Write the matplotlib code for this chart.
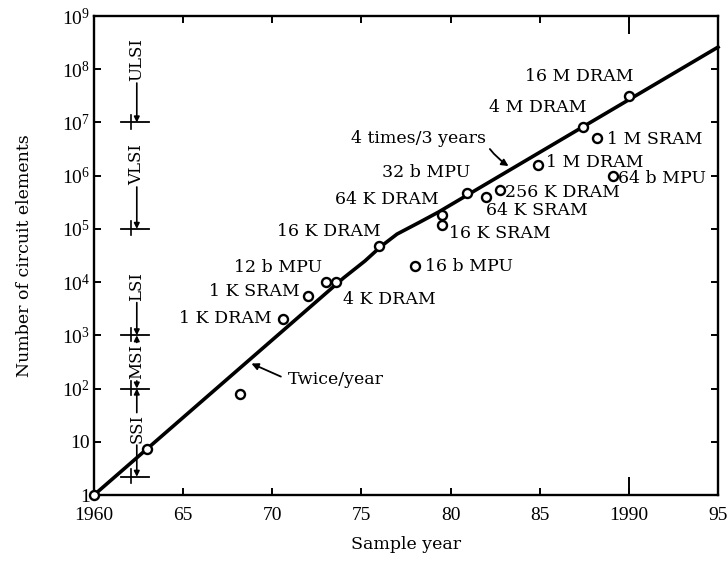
import matplotlib
matplotlib.use('Agg')
import matplotlib.pyplot as plt
from matplotlib.ticker import FixedLocator

# ------------------------- data -------------------------
years = [1960, 1963.0, 1968.2, 1970.6, 1972.0, 1973.0, 1973.6, 1976.0, 1978.0,
         1979.5, 1979.5, 1980.9, 1982.0, 1982.8, 1984.9, 1987.4, 1988.2, 1989.1, 1990.0]
counts = [1, 7.4, 80, 2.0e3, 5.4e3, 1.0e4, 1.0e4, 4.7e4, 2.0e4,
          1.2e5, 1.8e5, 4.7e5, 3.9e5, 5.3e5, 1.6e6, 8.1e6, 5.2e6, 9.8e5, 3.2e7]
labels = ['', '', '', '1 K DRAM', '1 K SRAM', '12 b MPU', '4 K DRAM', '16 K DRAM', '16 b MPU',
          '16 K SRAM', '64 K DRAM', '32 b MPU', '64 K SRAM', '256 K DRAM', '1 M DRAM',
          '4 M DRAM', '1 M SRAM', '64 b MPU', '16 M DRAM']

trend_years = [1960, 1974.0, 1975.2, 1976.1, 1977.0, 1978.2, 1979.3, 1995]
trend_counts = [1, 1.2e4, 2.5e4, 4.7e4, 8.0e4, 1.3e5, 2.05e5, 2.6e8]

levels = ['SSI', 'MSI', 'LSI', 'VLSI', 'ULSI']
level_lo = [2.2, 1e2, 1e3, 1e5, 1e7]
level_hi = [1e2, 1e3, None, None, None]
level_mid = [17.5, 320, 8.3e3, 1.6e6, 1.5e8]

xtick_vals = [1960, 1965, 1970, 1975, 1980, 1985, 1990, 1995]
xtick_text = ['1960', '65', '70', '75', '80', '85', '1990', '95']
ytick_vals = [10 ** k for k in range(10)]
ytick_text = ['1', '10'] + [r'$\mathregular{10^{%d}}$' % k for k in range(2, 10)]

# label placement (pixel offsets from the point, horizontal alignment)
lab_off = [None, None, None, (-11, 1), (-8, 5), (-4, 15), (7, -17), (1, 15), (10, 0),
           (7, -9), (-3, 16), (4, 21), (0, -13), (5, -2), (8, 2), (4, 20), (10, -2),
           (5, -2), (5, 19)]
lab_ha = [None, None, None, 'right', 'right', 'right', 'left', 'right', 'left',
          'left', 'right', 'right', 'left', 'left', 'left', 'right', 'left', 'left', 'right']

# ------ Set up figure layout --------
plt.rcParams['font.family'] = 'DejaVu Serif'
plt.rcParams['mathtext.fontset'] = 'dejavuserif'
fig = plt.figure(figsize=(7.28, 5.74), dpi=100)
ax = fig.add_axes([94 / 728, 1 - 495 / 574, 624 / 728, 479 / 574])
ax.set_yscale('log')
ax.set_xlim(1960, 1995)
ax.set_ylim(1, 1e9)
for s in ax.spines.values():
    s.set_linewidth(1.7)

# ------ Axes Labels --------
ax.xaxis.set_major_locator(FixedLocator(xtick_vals))
ax.set_xticklabels(xtick_text, fontsize=14, family='Liberation Serif')
ax.yaxis.set_major_locator(FixedLocator(ytick_vals))
ax.yaxis.set_minor_locator(FixedLocator([]))
ax.set_yticklabels(ytick_text, fontsize=14, family='Liberation Serif')
ax.tick_params(which='major', direction='in', length=5, width=1.4, top=True, right=True)
ax.tick_params(axis='x', pad=9)
ax.tick_params(axis='y', pad=3)
ax.xaxis.remove_overlapping_locs = False
ax.xaxis.set_minor_locator(FixedLocator([1990]))
ax.tick_params(axis='x', which='minor', direction='in', length=13, width=1.4, top=True)
ax.set_xlabel('Sample year', fontsize=12.5, labelpad=8)
ax.set_ylabel('Number of circuit elements', fontsize=12.5)
ax.yaxis.set_label_coords(-0.098, 0.5)

# ----- Add data -----
ax.plot(trend_years, trend_counts, color='black', lw=2.6, zorder=2, clip_on=False,
        solid_joinstyle='round')
ax.plot(years, counts, 'o', ms=6.5, mfc='white', mec='black', mew=1.7, zorder=3, clip_on=False)
for yr, c, t, off, ha in zip(years, counts, labels, lab_off, lab_ha):
    if t:
        ax.annotate(t, (yr, c), xytext=off, textcoords='offset pixels',
                    ha=ha, va='center', fontsize=12.5)

ax.annotate('Twice/year', xy=(1968.83, 10 ** 2.47), xytext=(1970.85, 10 ** 2.17),
            ha='left', va='center', fontsize=12.5,
            arrowprops=dict(arrowstyle='-|>', color='black', lw=1.3, mutation_scale=10,
                            relpos=(0, 0.5), shrinkA=3, shrinkB=0))
ax.annotate('4 times/3 years', xy=(1983.25, 10 ** 6.18), xytext=(1982.0, 10 ** 6.69),
            ha='right', va='center', fontsize=12.5,
            arrowprops=dict(arrowstyle='-|>', color='black', lw=1.3, mutation_scale=10,
                            relpos=(1, 0.2), shrinkA=1, shrinkB=0,
                            connectionstyle='arc3,rad=0.1'))

# ----- integration level brackets -----
lx = 1962.4
for name, lo, hi, mid in zip(levels, level_lo, level_hi, level_mid):
    ax.plot([1961.5, 1963.1], [lo, lo], color='black', lw=1.3)
    ax.plot([1962.05, 1962.05], [lo / 1.3, lo * 1.4], color='black', lw=1.2)
    txt = ax.text(lx, mid, name, rotation=90, ha='center', va='center', fontsize=12)
    fig.canvas.draw()
    bb = txt.get_window_extent().transformed(ax.transData.inverted())
    ax.annotate('', xy=(lx, lo), xytext=(lx, bb.y0 * 0.93),
                arrowprops=dict(arrowstyle='-|>', color='black', lw=1.2,
                                mutation_scale=8, shrinkA=0, shrinkB=0))
    if hi is not None:
        ax.annotate('', xy=(lx, hi), xytext=(lx, bb.y1 / 0.93),
                    arrowprops=dict(arrowstyle='-|>', color='black', lw=1.2,
                                    mutation_scale=8, shrinkA=0, shrinkB=0))

plt.savefig('out.png', dpi=100)
